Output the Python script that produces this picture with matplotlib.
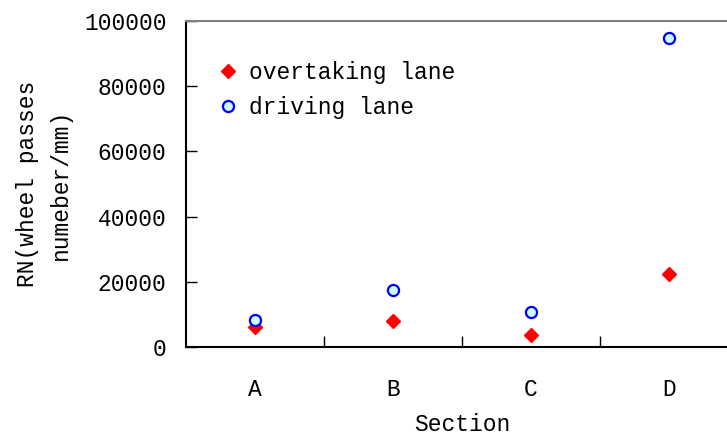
import matplotlib
matplotlib.use("Agg")
import matplotlib.pyplot as plt
import numpy as np

sections = ["A", "B", "C", "D"]
overtaking = [6000, 8000, 3700, 22400]
driving = [8300, 17500, 10700, 94800]
yticks = [0, 20000, 40000, 60000, 80000, 100000]

plt.rcParams['font.family'] = ['Liberation Mono', 'DejaVu Sans Mono']
fs = 16.5

W, H = 727, 438
fig = plt.figure(figsize=(W/100, H/100), dpi=100)
ax = fig.add_axes([186/W, 1-347/H, (738-186)/W, (347-21)/H])

x = np.arange(len(sections))
ax.plot(x, overtaking, linestyle='none', marker='D', ms=7, color='#ff0000',
        mec='#ff0000', label='overtaking lane', zorder=3)
ax.plot(x, driving, linestyle='none', marker='o', ms=8, mfc='#ccffff',
        mec='#0000ff', mew=1.6, label='driving lane', zorder=3)

ax.set_xlim(-0.5, 3.5)
ax.set_ylim(0, 100000)
ax.set_yticks(yticks)
ax.set_yticklabels([str(v) for v in yticks], fontsize=fs)
ax.set_xticks(x)
ax.set_xticklabels(sections, fontsize=fs)
ax.set_xticks([0.5, 1.5, 2.5], minor=True)
ax.tick_params(axis='x', which='major', length=0, pad=22)
ax.tick_params(axis='x', which='minor', length=8, direction='in', width=1)
ax.tick_params(axis='y', which='major', length=8, direction='in', width=1, pad=14)

for s in ['left', 'bottom']:
    ax.spines[s].set_linewidth(1.5)
    ax.spines[s].set_color('black')
ax.spines['top'].set_color('#808080')
ax.spines['top'].set_linewidth(1.5)
ax.spines['right'].set_visible(False)

ax.set_xlabel('Section', fontsize=fs, labelpad=9)
ax.set_ylabel('RN(wheel passes\nnumeber/mm)', fontsize=fs, labelpad=9, linespacing=1.55)

ax.legend(loc='upper left', bbox_to_anchor=(0.035, 0.905), frameon=False,
          fontsize=fs, handletextpad=0.3, labelspacing=0.5, handlelength=1.2,
          borderaxespad=0)

fig.savefig('out.png', dpi=100)
